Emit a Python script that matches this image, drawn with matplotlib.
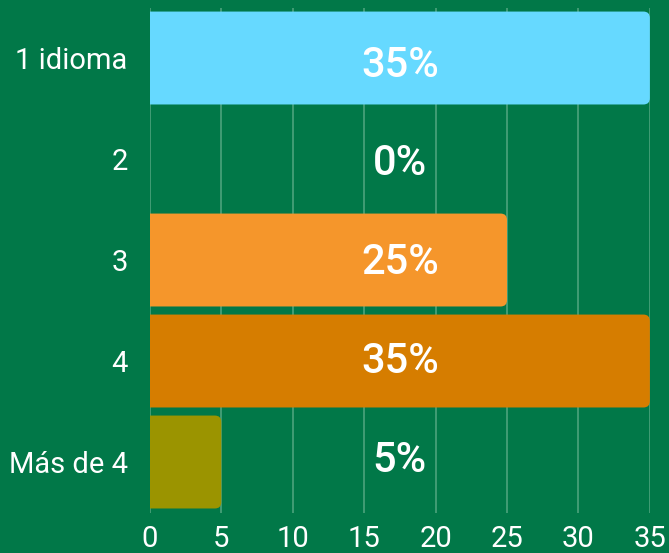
import matplotlib
matplotlib.use('agg')
import matplotlib.pyplot as plt
from matplotlib.patches import FancyBboxPatch

# data
categories = ['1 idioma', '2', '3', '4', 'Más de 4']
values = [35, 0, 25, 35, 5]
labels = ['35%', '0%', '25%', '35%', '5%']
colors = ['#66D9FF', '#66D9FF', '#F5962B', '#D67D00', '#9B9400']
xticks = [0, 5, 10, 15, 20, 25, 30, 35]

bg = '#017848'
plt.rcParams['font.family'] = ['Roboto', 'DejaVu Sans']

fig = plt.figure(figsize=(6.69, 5.53), dpi=100, facecolor=bg)
ax = fig.add_axes([0.224, 0.0732, 0.7474, 0.9132])
ax.set_facecolor(bg)

ypos = list(range(len(categories)))
bars = ax.barh(ypos, values, height=0.92, color=colors)

ax.set_xlim(0, 35)
ax.set_ylim(len(categories) - 0.5, -0.5)

# swap plain bars for rounded ones
r = 0.45
aspect = (5 / 505) / (35 / 500)
for b in bars:
    w = b.get_width()
    if w <= 0:
        b.remove()
        continue
    x0, y0, h = b.get_x(), b.get_y(), b.get_height()
    p = FancyBboxPatch((x0 - 1, y0), w + 1, h,
                       boxstyle='round,pad=0,rounding_size=%f' % r,
                       mutation_aspect=aspect,
                       facecolor=b.get_facecolor(), edgecolor='none', zorder=2)
    ax.add_patch(p)
    b.remove()

# value labels sit on a slightly tighter spacing than the bars
n = len(labels)
for i, lab in enumerate(labels):
    ly = 0.07 + i * (n - 1 - 0.09) / (n - 1)
    ax.text(17.5, ly, lab, ha='center', va='center', color='white',
            fontsize=30, fontweight='medium', zorder=3)

ax.set_xticks(xticks)
ax.set_yticks(ypos)
ax.set_yticklabels(categories)
ax.tick_params(axis='both', length=0, colors='white', labelsize=21)
ax.tick_params(axis='x', pad=9)
ax.tick_params(axis='y', pad=16)

ax.grid(axis='x', color='#5FAE8A', linewidth=1.2, alpha=0.8)
ax.grid(axis='y', visible=False)
ax.set_axisbelow(True)
for s in ax.spines.values():
    s.set_visible(False)

plt.savefig('out.png', dpi=100, facecolor=bg)
plt.close()
